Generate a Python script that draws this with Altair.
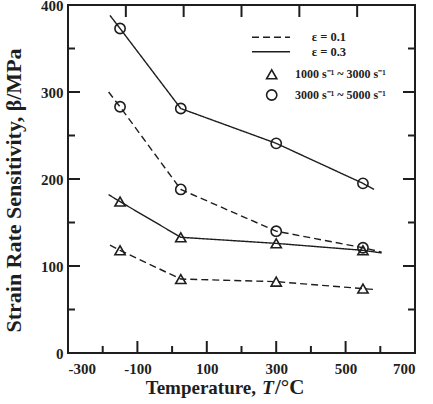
import altair as alt
import pandas as pd

# ---- measured values -------------------------------------------------------
temps = [-150, 25, 300, 550]
beta_circle_e03 = [373, 281, 241, 195]
beta_circle_e01 = [283, 188, 140, 121]
beta_tri_e03 = [174, 133, 126, 118]
beta_tri_e01 = [118, 85, 82, 74]

# trend lines run through the points and a little past both ends
line_t_circle_e03 = [-179, -150, 25, 300, 550, 582]
line_b_circle_e03 = [388, 373, 281, 241, 195, 188]
line_t_circle_e01 = [-183, -150, 25, 300, 550, 604]
line_b_circle_e01 = [300, 283, 188, 140, 121, 116]
line_t_tri_e03 = [-183, -150, 25, 300, 550, 604]
line_b_tri_e03 = [182, 174, 133, 126, 118, 115]
line_t_tri_e01 = [-179, -150, 25, 300, 550, 585]
line_b_tri_e01 = [124, 118, 85, 82, 74, 73]

# ---- axis ticks and labels -------------------------------------------------
x_labels = [-300, -100, 100, 300, 500, 700]
x_major_ticks = [-100, 100, 300, 500]
x_minor_ticks = [-200, 0, 200, 400, 600]
top_ticks = [-133.3, 33.3, 200, 366.7, 533.3]
y_labels = [0, 100, 200, 300, 400]
y_major_ticks = [100, 200, 300]
y_minor_ticks = [50, 150, 250, 350]

strain_labels = ["ε = 0.1", "ε = 0.3"]
rate_labels = ["1000 s⁻¹ ~ 3000 s⁻¹", "3000 s⁻¹ ~ 5000 s⁻¹"]
x_title_parts = ["Temperature,", "T", "/°C"]
y_title = "Strain Rate Sensitivity, β/MPa"

# ---- tables ----------------------------------------------------------------
series = [
    ("c03", strain_labels[1], "high", beta_circle_e03, line_t_circle_e03, line_b_circle_e03),
    ("c01", strain_labels[0], "high", beta_circle_e01, line_t_circle_e01, line_b_circle_e01),
    ("t03", strain_labels[1], "low", beta_tri_e03, line_t_tri_e03, line_b_tri_e03),
    ("t01", strain_labels[0], "low", beta_tri_e01, line_t_tri_e01, line_b_tri_e01),
]
pts_rows, line_rows = [], []
for sid, strain, rate, betas, lt, lb in series:
    for t, b in zip(temps, betas):
        pts_rows.append({"T": t, "beta": b, "strain": strain, "rate": rate})
    for t, b in zip(lt, lb):
        line_rows.append({"T": t, "beta": b, "strain": strain, "series": sid})
pts = pd.DataFrame(pts_rows)
lines_df = pd.DataFrame(line_rows)

# ---- styling ---------------------------------------------------------------
INK = "#1e1e1e"
SERIF = "Liberation Serif"
W, H = 347, 348

x_scale = alt.Scale(domain=[-300, 700], nice=False, zero=False)
y_scale = alt.Scale(domain=[0, 400], nice=False, zero=False)
dash_scale = alt.Scale(domain=strain_labels, range=[[7, 4], [1, 0]])
shape_scale = alt.Scale(domain=["low", "high"], range=["triangle-up", "circle"])

ax_x = alt.Axis(values=x_labels, ticks=False, domain=False, grid=False,
                labelFont=SERIF, labelFontWeight="bold", labelFontSize=15,
                labelColor=INK, labelPadding=8, labelExpr="'' + datum.value",
                title=None)
ax_y = alt.Axis(values=y_labels, ticks=False, domain=False, grid=False,
                labelFont=SERIF, labelFontWeight="bold", labelFontSize=15,
                labelColor=INK, labelPadding=5, labelExpr="'' + datum.value",
                title=y_title, titleFont=SERIF, titleFontWeight="bold",
                titleFontSize=22, titleColor=INK, titleAngle=270,
                titleX=-48, titleY=185, titleBaseline="alphabetic",
                titleAlign="center")

X = alt.X("T:Q", scale=x_scale, axis=ax_x)
Y = alt.Y("beta:Q", scale=y_scale, axis=ax_y)

lines = alt.Chart(lines_df).mark_line(stroke=INK, strokeWidth=1.4).encode(
    x=X, y=Y,
    strokeDash=alt.StrokeDash("strain:N", scale=dash_scale, legend=None),
    detail="series:N",
)

points = alt.Chart(pts).mark_point(filled=False, size=105, strokeWidth=1.6,
                                   color=INK, opacity=1).encode(
    x=X, y=Y,
    shape=alt.Shape("rate:N", scale=shape_scale, legend=None),
)


def x_ticks(values, top, length):
    y0 = 0 if top else H
    y1 = length if top else H - length
    return alt.Chart(pd.DataFrame({"T": values})).mark_rule(
        stroke=INK, strokeWidth=2).encode(
        x=X, y=alt.value(y0), y2=alt.value(y1))


def y_ticks(values, right, length):
    x0 = W if right else 0
    x1 = W - length if right else length
    return alt.Chart(pd.DataFrame({"beta": values})).mark_rule(
        stroke=INK, strokeWidth=2).encode(
        y=Y, x=alt.value(x0), x2=alt.value(x1))


ticks = [
    x_ticks(x_major_ticks, False, 12), x_ticks(x_minor_ticks, False, 7),
    x_ticks(top_ticks, True, 12),
    y_ticks(y_major_ticks, False, 12), y_ticks(y_minor_ticks, False, 7),
    y_ticks(y_major_ticks, True, 12), y_ticks(y_minor_ticks, True, 7),
]

one = alt.Data(values=[{"k": 0}])


def text(label, x, y, size, align="left", style="normal", baseline="middle"):
    return alt.Chart(one).mark_text(
        font=SERIF, fontWeight="bold", fontStyle=style, fontSize=size,
        color=INK, align=align, baseline=baseline).encode(
        x=alt.value(x), y=alt.value(y), text=alt.value(label))


def legend_line(y, dash):
    return alt.Chart(one).mark_rule(stroke=INK, strokeWidth=1.4,
                                    strokeDash=dash).encode(
        x=alt.value(184), x2=alt.value(222), y=alt.value(y))


def legend_symbol(y, shape):
    return alt.Chart(one).mark_point(filled=False, size=105, strokeWidth=1.6,
                                     color=INK, opacity=1, shape=shape).encode(
        x=alt.value(203.7), y=alt.value(y))


legend = [
    legend_line(32.3, [7, 4]), text(strain_labels[0], 243.7, 32.3, 12.5),
    legend_line(46.7, [1, 0]), text(strain_labels[1], 243.7, 46.7, 12.5),
    legend_symbol(69.3, "triangle-up"), text(rate_labels[0], 227, 69.3, 12),
    legend_symbol(90, "circle"), text(rate_labels[1], 227, 90, 12),
]

x_title = [
    text(x_title_parts[0], 188, 389, 19, align="right", baseline="alphabetic"),
    text(x_title_parts[1], 194, 389, 19.5, style="italic", baseline="alphabetic"),
    text(x_title_parts[2], 207, 389, 21, baseline="alphabetic"),
]

chart = alt.layer(lines, points, *ticks, *legend, *x_title).properties(
    width=W, height=H,
    padding={"left": 68, "top": 5, "right": 18, "bottom": 51},
    autosize=alt.AutoSizeParams(type="none"),
).configure_view(stroke=INK, strokeWidth=2)

chart.save("out.html", embed_options={"renderer": "svg", "actions": False})
